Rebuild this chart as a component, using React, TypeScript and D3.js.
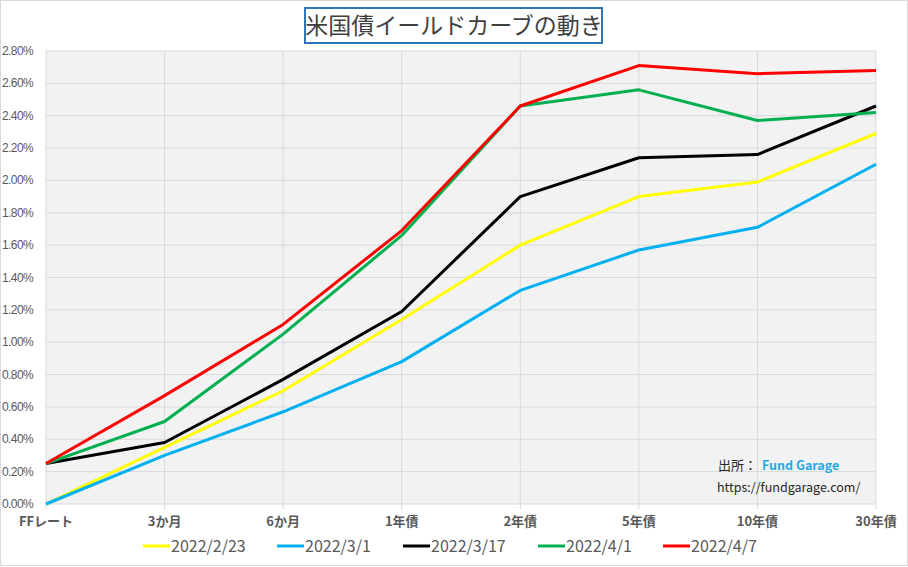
import React from "react";
import * as d3 from "d3";

// Categories (maturities) and yields in %
const categories = ["FFレート", "3か月", "6か月", "1年債", "2年債", "5年債", "10年債", "30年債"];
const yTicks = [0, 0.2, 0.4, 0.6, 0.8, 1.0, 1.2, 1.4, 1.6, 1.8, 2.0, 2.2, 2.4, 2.6, 2.8];

const seriesNames = ["2022/2/23", "2022/3/1", "2022/3/17", "2022/4/1", "2022/4/7"];
const seriesColors = ["#ffff00", "#00b0f0", "#000000", "#00b050", "#ff0000"];

const yields0223 = [0.0, 0.35, 0.7, 1.14, 1.6, 1.9, 1.99, 2.29];
const yields0301 = [0.0, 0.3, 0.57, 0.88, 1.32, 1.57, 1.71, 2.1];
const yields0317 = [0.25, 0.38, 0.77, 1.19, 1.9, 2.14, 2.16, 2.46];
const yields0401 = [0.25, 0.51, 1.05, 1.66, 2.46, 2.56, 2.37, 2.42];
const yields0407 = [0.25, 0.67, 1.11, 1.69, 2.46, 2.71, 2.66, 2.68];

const seriesValues = [yields0223, yields0301, yields0317, yields0401, yields0407];

const W = 908;
const H = 567;
const margin = { top: 51, right: 32, bottom: 63, left: 46 };
const textColor = "#595959";
const jpFont = "'Noto Sans CJK JP', 'Noto Sans', sans-serif";

export default function App() {
  const innerW = W - margin.left - margin.right;
  const innerH = H - margin.top - margin.bottom;

  const x = d3.scalePoint<string>().domain(categories).range([0, innerW]);
  const y = d3.scaleLinear().domain([0, 2.8]).range([innerH, 0]);

  const line = d3
    .line<number>()
    .x((_, i) => x(categories[i]) as number)
    .y((d) => y(d));

  const legendX = [143, 277, 403, 538, 663];

  return (
    <div style={{ position: "absolute", left: 0, top: 0 }}>
      <svg width={W} height={H} style={{ display: "block", background: "#fff" }}>
        <rect x={0.5} y={0.5} width={W - 1} height={H - 2} fill="#fff" stroke="#d9d9d9" />

        {/* title */}
        <rect x={305} y={8} width={297} height={35} fill="#fff" stroke="#2e75b6" strokeWidth={2} />
        <text x={454} y={34} textAnchor="middle" fontFamily={jpFont} fontSize={23} fill="#404040">
          米国債イールドカーブの動き
        </text>

        <g transform={`translate(${margin.left},${margin.top})`}>
          <rect width={innerW} height={innerH} fill="#f2f2f2" />
          {yTicks.map((t) => (
            <line key={"h" + t} x1={0} x2={innerW} y1={y(t)} y2={y(t)} stroke="#d9d9d9" />
          ))}
          {categories.map((c) => (
            <line key={"v" + c} x1={x(c)} x2={x(c)} y1={0} y2={innerH + 5} stroke="#d9d9d9" />
          ))}

          {yTicks.map((t) => (
            <text
              key={"yl" + t}
              x={-44}
              y={y(t) + 4}
              fontFamily="'Liberation Sans', Arial, sans-serif"
              fontSize={12}
              letterSpacing={-0.6}
              fill={textColor}
            >
              {t.toFixed(2)}%
            </text>
          ))}

          {categories.map((c) => (
            <text
              key={"xl" + c}
              x={x(c)}
              y={innerH + 22}
              textAnchor="middle"
              fontFamily={jpFont}
              fontSize={13}
              fontWeight="bold"
              fill={textColor}
            >
              {c}
            </text>
          ))}

          {seriesValues.map((vals, i) => (
            <path
              key={seriesNames[i]}
              d={line(vals) || ""}
              fill="none"
              stroke={seriesColors[i]}
              strokeWidth={3}
              strokeLinejoin="round"
            />
          ))}

          {/* source note */}
          <text x={672} y={419} fontFamily={jpFont} fontSize={13} fill="#262626">
            出所：
          </text>
          <text x={716} y={419} fontFamily={jpFont} fontSize={12.5} fontWeight="bold" fill="#1eaae7">
            Fund Garage
          </text>
          <text x={671} y={441} fontFamily={jpFont} fontSize={12.5} fill="#262626">
            https://fundgarage.com/
          </text>
        </g>

        {/* legend */}
        {seriesNames.map((n, i) => (
          <g key={"lg" + n} transform={`translate(${legendX[i]},546)`}>
            <line x1={0} x2={27} y1={0} y2={0} stroke={seriesColors[i]} strokeWidth={3} />
            <text x={28} y={6} fontFamily="'Noto Sans CJK JP', sans-serif" fontSize={16} fill={textColor}>
              {n}
            </text>
          </g>
        ))}
      </svg>
    </div>
  );
}
